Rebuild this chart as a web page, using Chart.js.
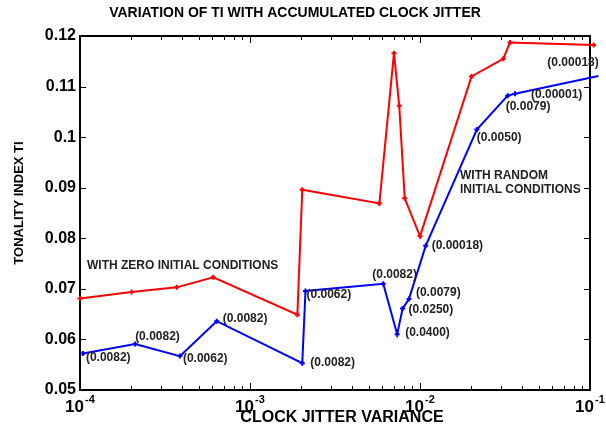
<!DOCTYPE html>
<html>
<head>
<meta charset="utf-8">
<script src="https://cdn.jsdelivr.net/npm/chart.js@4"></script>
<style>
  body { margin: 0; background: #fff; }
  canvas { display: block; }
</style>
</head>
<body>
<canvas id="chart" width="606" height="429"></canvas>
<script>
// values
const zeroJitter = [0.000100, 0.000201, 0.000371, 0.000608, 0.00190, 0.00203, 0.00577, 0.00703, 0.00755, 0.00813, 0.0100, 0.0201, 0.0309, 0.0338, 0.105];
const zeroTI     = [0.0681, 0.0694, 0.0703, 0.0723, 0.0649, 0.0896, 0.0869, 0.1166, 0.1062, 0.0879, 0.0804, 0.1120, 0.1155, 0.1187, 0.1182];

const randJitter = [0.000104, 0.000211, 0.000387, 0.000637, 0.00203, 0.00212, 0.00608, 0.00734, 0.00790, 0.00861, 0.0108, 0.0216, 0.0328, 0.0362, 0.112];
const randTI     = [0.0572, 0.0591, 0.0567, 0.0636, 0.0553, 0.0696, 0.0710, 0.0610, 0.0661, 0.0680, 0.0785, 0.1015, 0.1082, 0.1086, 0.1121];
const randLabels = ['(0.0082)', '(0.0082)', '(0.0062)', '(0.0082)', '(0.0082)', '(0.0062)', '(0.0082)', '(0.0400)', '(0.0250)', '(0.0079)', '(0.00018)', '(0.0050)', '(0.0079)', '(0.00001)', '(0.00018)'];
// where each label sits relative to its point (px)
const labelOffsets = [[3, 4], [0, -7], [3, 3], [6, -3], [8, -1], [1, 4], [-11, -9], [8, -2], [6, 1], [7, -6], [6, 0], [0, 8], [-2, 11], [16, 1], [-51, -13]];

const xTicks = [1e-4, 1e-3, 1e-2, 1e-1];
const yTicks = [0.05, 0.06, 0.07, 0.08, 0.09, 0.1, 0.11, 0.12];

const FONT = '"Liberation Sans", Arial, sans-serif';

const toPoints = (xs, ys) => xs.map((v, i) => ({ x: v, y: ys[i] }));

const frame = {
  id: 'frame',
  beforeDatasetsDraw(chart) {
    const { ctx, chartArea: a, scales: { x, y } } = chart;
    ctx.save();
    ctx.strokeStyle = '#000';
    ctx.lineWidth = 1;
    // x ticks, top and bottom, pointing in
    for (let d = 0; d < xTicks.length; d++) {
      const base = xTicks[d];
      for (let m = 1; m <= 9; m++) {
        const v = base * m;
        if (v > xTicks[xTicks.length - 1] + 1e-12) break;
        const px = Math.round(x.getPixelForValue(v)) + 0.5;
        const len = m === 1 ? 7 : 4;
        ctx.beginPath();
        ctx.moveTo(px, a.bottom); ctx.lineTo(px, a.bottom - len);
        ctx.moveTo(px, a.top); ctx.lineTo(px, a.top + len);
        ctx.stroke();
      }
    }
    yTicks.forEach(v => {
      const py = Math.round(y.getPixelForValue(v)) + 0.5;
      ctx.beginPath();
      ctx.moveTo(a.left, py); ctx.lineTo(a.left + 6, py);
      ctx.moveTo(a.right, py); ctx.lineTo(a.right - 6, py);
      ctx.stroke();
    });
    ctx.lineWidth = 2;
    ctx.strokeRect(a.left, a.top, a.right - a.left, a.bottom - a.top);
    ctx.restore();
  },
  afterDraw(chart) {
    const { ctx, scales: { x, y } } = chart;
    ctx.save();
    ctx.fillStyle = '#000';
    ctx.textBaseline = 'middle';

    // title
    ctx.textAlign = 'center';
    ctx.font = 'bold 14px ' + FONT;
    ctx.fillText('VARIATION OF TI WITH ACCUMULATED CLOCK JITTER', 295, 13);

    // x axis title
    ctx.font = 'bold 16px ' + FONT;
    ctx.fillText('CLOCK JITTER VARIANCE', 342, 418);

    // y axis title
    ctx.save();
    ctx.translate(19, 203);
    ctx.rotate(-Math.PI / 2);
    ctx.font = 'bold 13px ' + FONT;
    ctx.fillText('TONALITY INDEX TI', 0, 0);
    ctx.restore();

    // x tick labels 10^n
    ctx.textBaseline = 'alphabetic';
    xTicks.forEach(v => {
      const px = x.getPixelForValue(v);
      ctx.textAlign = 'right';
      ctx.font = 'bold 17px ' + FONT;
      ctx.fillText('10', px + 4, 412);
      ctx.textAlign = 'left';
      ctx.font = 'bold 11px ' + FONT;
      ctx.fillText(String(Math.round(Math.log10(v))), px + 5, 403);
    });

    // annotations
    ctx.fillStyle = '#222';
    ctx.textBaseline = 'middle';
    ctx.textAlign = 'left';
    ctx.font = 'bold 12px ' + FONT;
    randLabels.forEach((t, i) => {
      const px = x.getPixelForValue(randJitter[i]);
      const py = y.getPixelForValue(randTI[i]);
      ctx.fillText(t, px + labelOffsets[i][0], py + labelOffsets[i][1]);
    });
    ctx.fillText('WITH ZERO INITIAL CONDITIONS', 87, 266);
    ctx.fillText('WITH RANDOM', 460, 176);
    ctx.fillText('INITIAL CONDITIONS', 460, 190);
    ctx.restore();
  }
};

new Chart(document.getElementById('chart'), {
  type: 'line',
  data: {
    datasets: [
      {
        label: 'With zero initial conditions',
        data: toPoints(zeroJitter, zeroTI),
        borderColor: '#ff0000',
        backgroundColor: '#ff0000',
        borderWidth: 2,
        pointStyle: 'cross',
        pointRadius: 2.5,
        pointBorderWidth: 2,
        tension: 0,
        clip: false
      },
      {
        label: 'With random initial conditions',
        data: toPoints(randJitter, randTI),
        borderColor: '#0000ff',
        backgroundColor: '#0000ff',
        borderWidth: 2,
        pointStyle: 'cross',
        pointRadius: 2.5,
        pointBorderWidth: 2,
        tension: 0,
        clip: false
      }
    ]
  },
  options: {
    responsive: false,
    animation: false,
    devicePixelRatio: 1,
    layout: { padding: { top: 36, right: 16, left: 0, bottom: 0 } },
    plugins: { legend: { display: false }, tooltip: { enabled: false } },
    scales: {
      x: {
        type: 'logarithmic',
        min: xTicks[0],
        max: xTicks[xTicks.length - 1],
        grid: { display: false, drawTicks: false },
        border: { display: false },
        ticks: { display: false },
        afterFit: s => { s.height = 39; }
      },
      y: {
        min: yTicks[0],
        max: yTicks[yTicks.length - 1],
        afterBuildTicks: s => { s.ticks = yTicks.map(v => ({ value: v })); },
        grid: { display: false, drawTicks: false },
        border: { display: false },
        ticks: {
          padding: 4,
          color: '#000',
          font: { family: FONT, size: 16, weight: 'bold' },
          callback: v => String(parseFloat(v.toFixed(2)))
        },
        afterFit: s => { s.width = 80; }
      }
    }
  },
  plugins: [frame]
});
</script>
</body>
</html>
